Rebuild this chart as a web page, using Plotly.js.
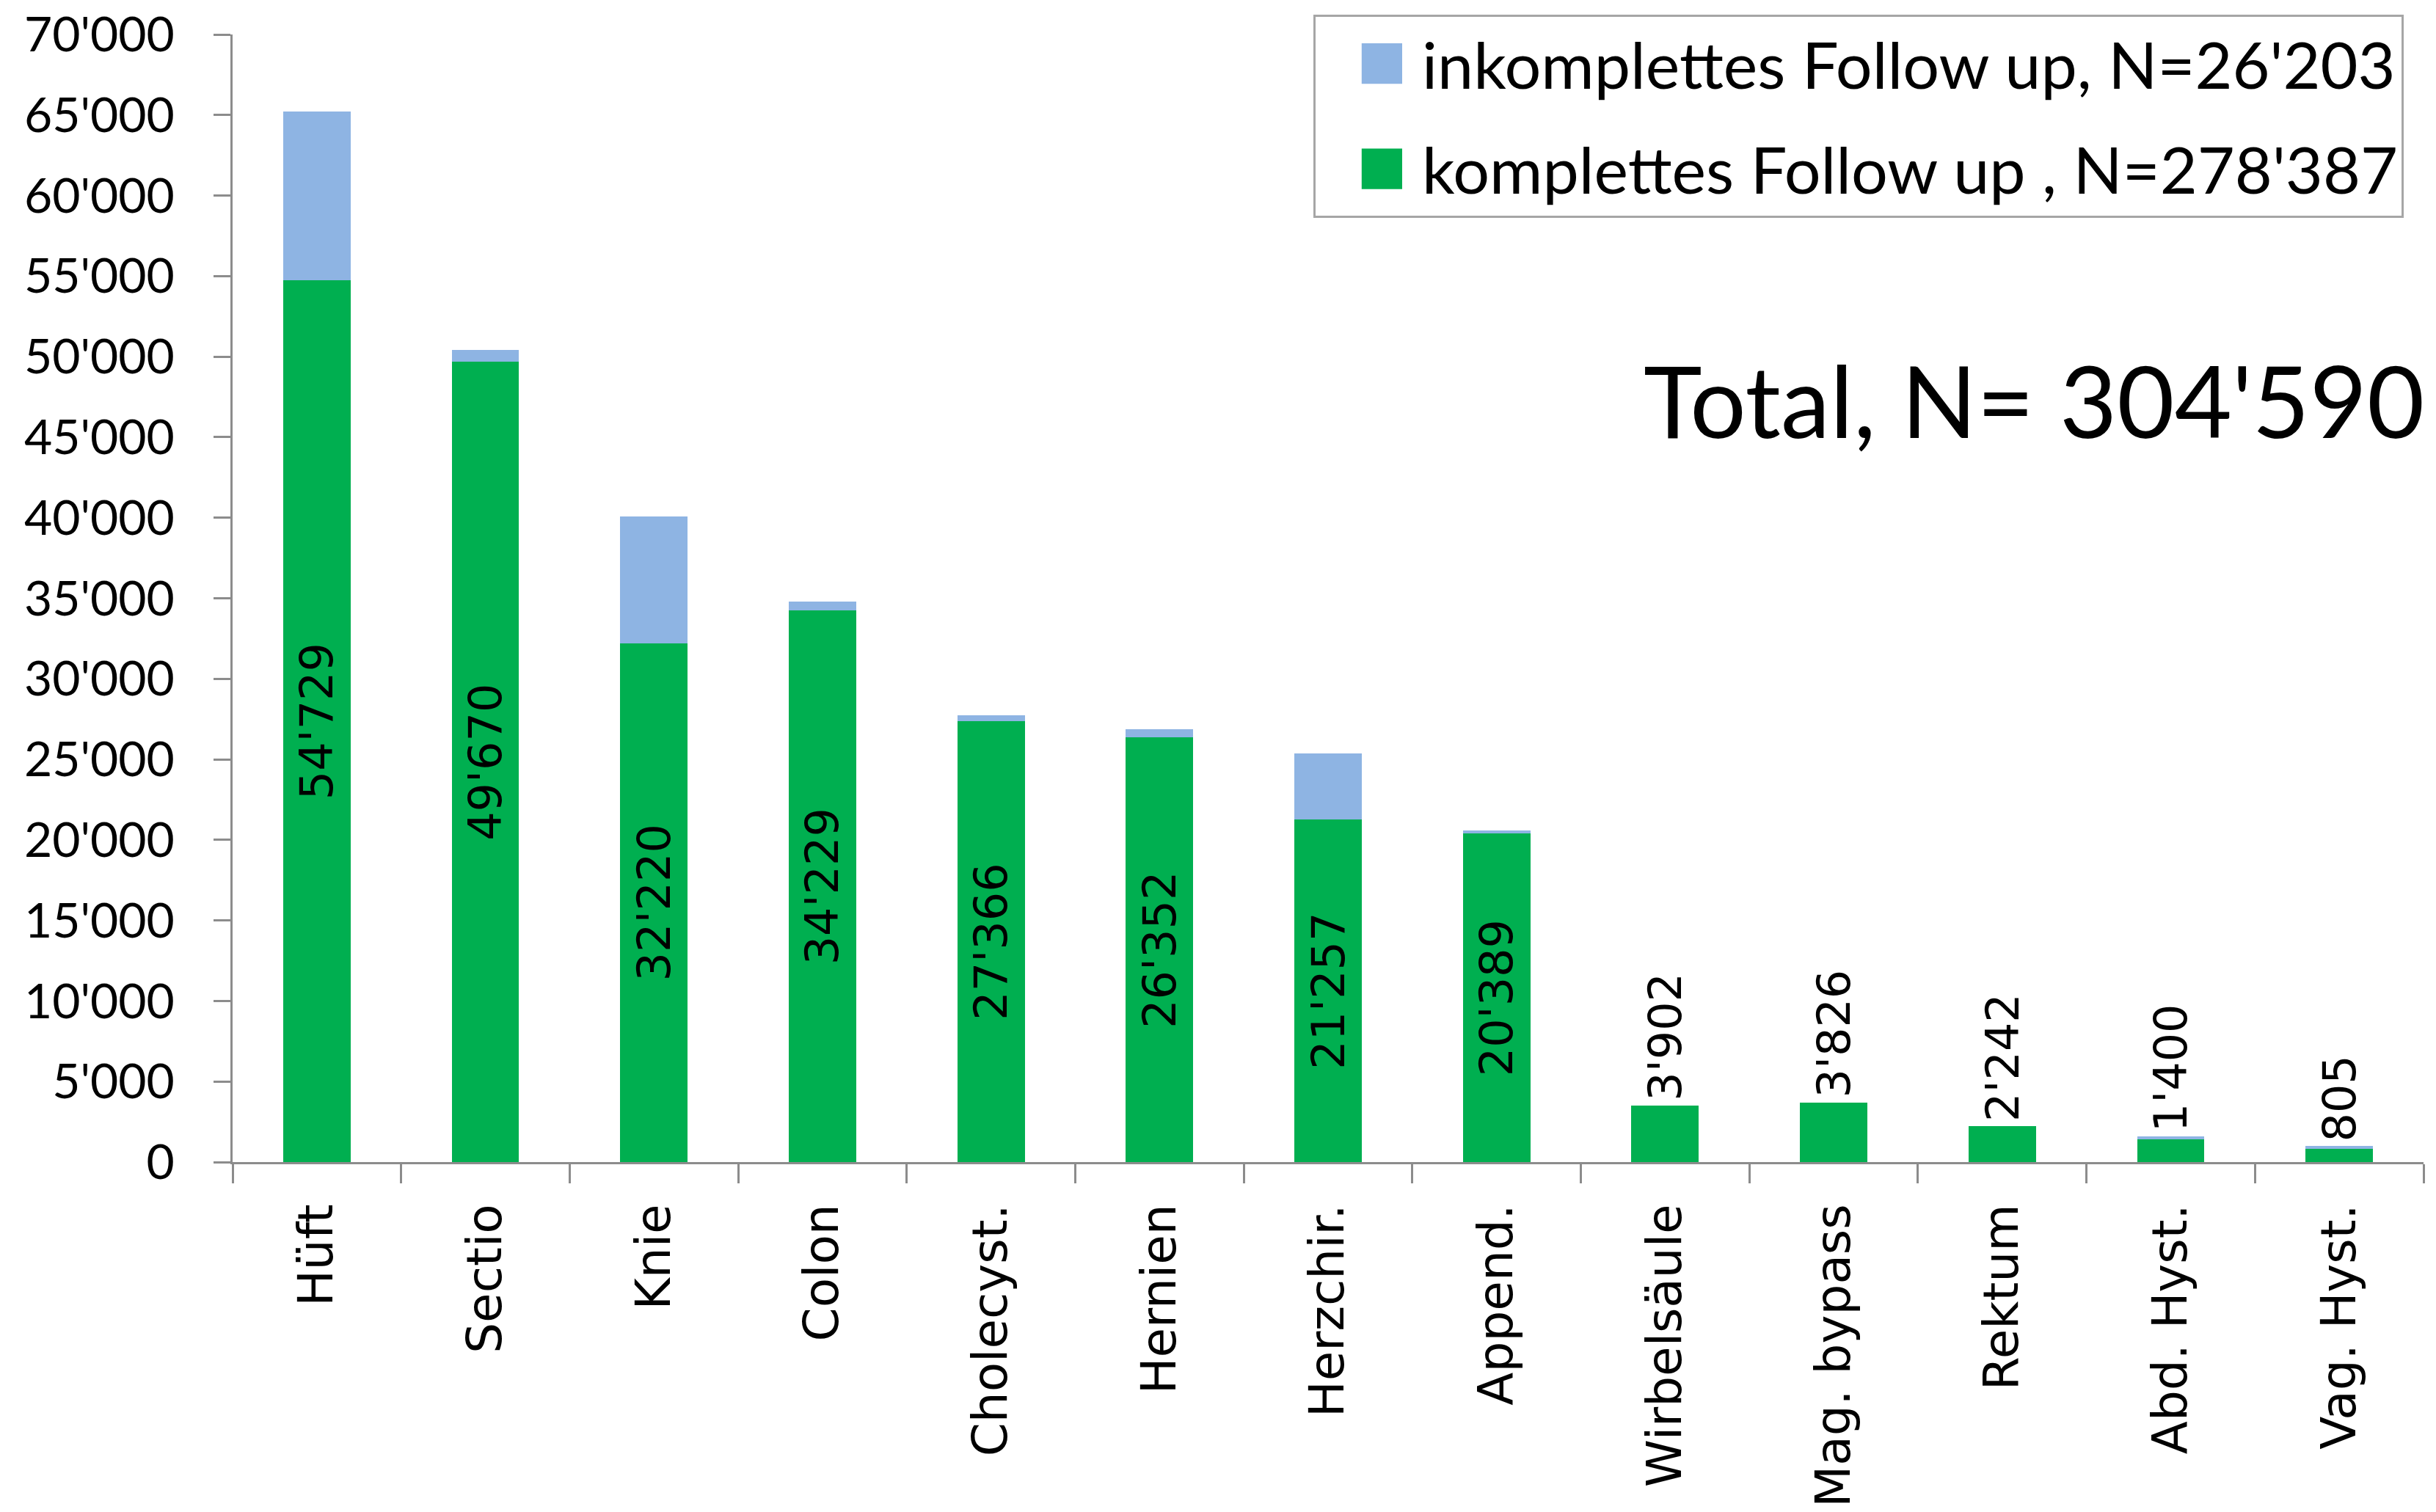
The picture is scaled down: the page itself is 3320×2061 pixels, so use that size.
<!DOCTYPE html>
<html>
<head>
<meta charset="utf-8">
<script src="https://cdn.plot.ly/plotly-3.0.1.min.js"></script>
<style>
  html, body { margin: 0; padding: 0; background: #ffffff; }
  #chart { width: 3320px; height: 2061px; }
</style>
</head>
<body>
<div id="chart"></div>
<script>
// ---- data ----
const categories = ['Hüft', 'Sectio', 'Knie', 'Colon', 'Cholecyst.', 'Hernien', 'Herzchir.', 'Append.',
                    'Wirbelsäule', 'Mag. bypass', 'Rektum', 'Abd. Hyst.', 'Vag. Hyst.'];
const completeValues = [54729, 49670, 32220, 34229, 27366, 26352, 21257, 20389, 3510, 3690, 2242, 1400, 805];
const incompleteValues = [10500, 750, 7850, 560, 350, 520, 4100, 200, 0, 0, 0, 180, 180];
const completeLabels = ["54'729", "49'670", "32'220", "34'229", "27'366", "26'352", "21'257", "20'389",
                        "3'902", "3'826", "2'242", "1'400", "805"];
const seriesNames = ["komplettes Follow up , N=278'387", "inkomplettes Follow up, N=26'203"];
const totalText = "Total, N= 304'590";
const yTickValues = [0, 5000, 10000, 15000, 20000, 25000, 30000, 35000, 40000, 45000, 50000, 55000, 60000, 65000, 70000];

// ---- styling ----
const GREEN = '#00AF50';
const BLUE = '#8EB4E3';
const AXIS = '#8c8c8c';
const LABEL_FONT = 'DejaVu Sans, Verdana, sans-serif';
const NUM_FONT = 'Lato, Carlito, Calibri, sans-serif';
const insideThreshold = 10000;

const insidePos = completeValues.map(v => v >= insideThreshold ? 'inside' : 'none');

const traceComplete = {
  type: 'bar',
  x: categories,
  y: completeValues,
  name: seriesNames[0],
  legendgroup: 'a',
  legendrank: 2,
  marker: { color: GREEN, line: { width: 0 } },
  text: completeLabels,
  textposition: insidePos,
  insidetextanchor: 'middle',
  textangle: -90,
  constraintext: 'none',
  insidetextfont: { family: LABEL_FONT, size: 62, color: '#000000' },
  hoverinfo: 'skip'
};

const traceIncomplete = {
  type: 'bar',
  x: categories,
  y: incompleteValues,
  name: seriesNames[1],
  legendgroup: 'b',
  legendrank: 1,
  marker: { color: BLUE, line: { width: 0 } },
  hoverinfo: 'skip'
};

const annotations = [];
categories.forEach((c, i) => {
  if (completeValues[i] < insideThreshold) {
    annotations.push({
      x: c, y: completeValues[i] + incompleteValues[i], xref: 'x', yref: 'y',
      text: completeLabels[i], textangle: -90, showarrow: false,
      xanchor: 'center', yanchor: 'bottom', yshift: 4,
      font: { family: LABEL_FONT, size: 62, color: '#000000' }
    });
  }
});
annotations.push({
  xref: 'paper', yref: 'paper', x: 1.001, y: 0.676,
  xanchor: 'right', yanchor: 'middle', showarrow: false,
  text: totalText,
  font: { family: NUM_FONT, size: 135, color: '#000000' }
});

const layout = {
  width: 3320,
  height: 2061,
  paper_bgcolor: '#ffffff',
  plot_bgcolor: '#ffffff',
  separators: ".'",
  barmode: 'stack',
  bargap: 0.6,
  margin: { l: 317, r: 17, t: 47, b: 477, pad: 0 },
  showlegend: true,
  legend: {
    x: 0.4933, y: 1.0176, xanchor: 'left', yanchor: 'top',
    traceorder: 'grouped',
    tracegroupgap: 26,
    itemwidth: 135,
    bgcolor: '#ffffff',
    bordercolor: '#a6a6a6',
    borderwidth: 3,
    font: { family: NUM_FONT, size: 88, color: '#000000' }
  },
  xaxis: {
    type: 'category',
    tickson: 'boundaries',
    ticks: 'outside',
    ticklen: 26,
    tickwidth: 3,
    tickcolor: AXIS,
    showline: true,
    linecolor: AXIS,
    linewidth: 3,
    showgrid: false,
    zeroline: false,
    tickangle: -90,
    ticklabelstandoff: 28,
    tickfont: { family: LABEL_FONT, size: 66, color: '#000000' }
  },
  yaxis: {
    range: [0, 70000],
    tickvals: yTickValues,
    tickformat: ',d',
    ticks: 'outside',
    ticklen: 23,
    tickwidth: 3,
    tickcolor: AXIS,
    showline: true,
    linecolor: AXIS,
    linewidth: 3,
    showgrid: false,
    zeroline: false,
    ticklabelstandoff: 40,
    tickfont: { family: NUM_FONT, size: 66, color: '#000000' }
  },
  annotations: annotations
};

Plotly.newPlot('chart', [traceComplete, traceIncomplete], layout, { staticPlot: true, displayModeBar: false })
  .then(function (gd) {
    // enlarge the legend swatches to the big squares of the original chart
    gd.querySelectorAll('.legend .traces').forEach(function (tr) {
      const p = tr.querySelector('.legendpoints path');
      const txt = tr.querySelector('text.legendtext');
      if (!p || !txt) return;
      const pb = p.getBoundingClientRect();
      const tb = txt.getBoundingClientRect();
      const cx = pb.left + pb.width / 2;
      const half = 6 * 4.6;
      const targetCx = tb.left - 27 - half;
      const dx = targetCx - cx;
      const prev = p.getAttribute('transform') || '';
      p.setAttribute('transform', prev + ' translate(' + dx + ',0) scale(4.6)');
    });
  });
</script>
</body>
</html>
